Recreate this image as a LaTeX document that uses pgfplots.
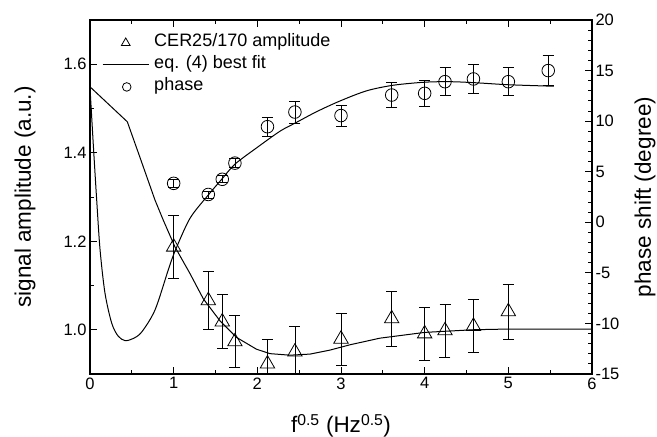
\documentclass[border=0pt]{standalone}
\usepackage{fontspec}
\setmainfont{Liberation Sans}
\usepackage{pgfplots}
\pgfplotsset{compat=1.18}
\usepackage{pgfplotstable}

\pgfplotstableread{
x y e
1.000 1.187 0.072
1.414 1.066 0.065
1.581 1.018 0.061
1.732 0.973 0.059
2.121 0.923 0.056
2.449 0.950 0.057
3.000 0.979 0.059
3.606 1.025 0.062
4.000 0.991 0.060
4.243 0.998 0.060
4.583 1.008 0.060
5.000 1.041 0.062
}\ampdata

\pgfplotstableread{
x y
0     1.549
0.446 1.470
0.600 1.388
0.777 1.293
0.875 1.248
1.016 1.187
1.195 1.127
1.354 1.070
1.554 1.020
1.753 0.9825
1.990 0.956
2.151 0.946
2.390 0.9425
2.630 0.945
2.868 0.954
3.107 0.966
3.466 0.981
4.000 0.994
4.580 1.000
5.000 1.0016
6.000 1.0016
}\ampfit

\pgfplotstableread{
x y e
1.000 3.85 0.40
1.414 2.75 0.35
1.581 4.25 0.35
1.732 5.85 0.45
2.121 9.45 0.93
2.449 10.90 1.10
3.000 10.55 1.04
3.606 12.58 1.24
4.000 12.75 1.27
4.243 13.90 1.37
4.583 14.17 1.40
5.000 13.90 1.37
5.477 15.00 1.45
}\phasedata

\pgfplotstableread{
x y
0     13.30
0.040 7.60
0.080 2.20
0.120 -2.70
0.179 -7.00
0.259 -9.96
0.335 -11.24
0.418 -11.70
0.514 -11.50
0.618 -10.85
0.777 -8.67
0.932 -4.80
1.016 -2.85
1.195 0.39
1.414 2.70
1.574 4.25
1.733 5.75
1.990 7.35
2.270 9.00
2.450 9.80
2.710 10.94
2.990 12.00
3.307 13.00
3.625 13.55
4.000 13.85
4.300 13.90
4.600 13.80
5.000 13.60
5.545 13.45
}\phasefit

\begin{document}
\begin{tikzpicture}
\pgfplotsset{
  common/.style={
    scale only axis, width=502pt, height=354pt,
    xmin=0, xmax=6,
    /pgf/number format/assume math mode=true,
    tick label style={font=\fontsize{16.5}{18}\selectfont},
    tick align=inside,
    major tick length=7pt, minor tick length=4pt,
    every tick/.style={black, line width=0.9pt},
    axis line style={line width=1.1pt},
  },
}
\begin{axis}[common, name=ax,
  ymin=0.9, ymax=1.7,
  ytick={1.0,1.2,1.4,1.6}, yticklabels={1.0,1.2,1.4,1.6},
  minor ytick={0.9,1.1,1.3,1.5,1.7},
  ytick pos=left,
  xtick={0,1,2,3,4,5,6}, minor xtick={0.5,1.5,2.5,3.5,4.5,5.5},
  xtick pos=both,
  xlabel={f\textsuperscript{0.5} (Hz\textsuperscript{0.5})},
  ylabel={signal amplitude (a.u.)},
  every axis x label/.style={at={(rel axis cs:0.5,0)}, yshift=-52pt, anchor=center, font=\fontsize{22.5}{26}\selectfont},
  every axis y label/.style={at={(rel axis cs:0,0.5)}, xshift=-65pt, rotate=90, anchor=center, font=\fontsize{22.5}{26}\selectfont},
  legend style={draw=none, fill=none, inner sep=0pt,
    at={(rel axis cs:0.024,0.964)}, anchor=north west,
    font=\fontsize{18}{20}\selectfont, cells={anchor=west},
    nodes={inner sep=2pt, text height=12pt, text depth=4pt}, row sep=2pt, column sep=3pt},
]
\addlegendimage{legend image code/.code={\path (0pt,0pt) (46pt,0pt); \draw[black, line width=0.8pt] plot[only marks, mark=triangle, mark size=5pt] coordinates {(23pt,0pt)};}}
\addlegendentry{CER25/170 amplitude}
\addlegendimage{legend image code/.code={\draw[black, line width=1pt] (0pt,0pt) -- (46pt,0pt);}}
\addlegendentry{eq. (4) best fit}
\addlegendimage{legend image code/.code={\path (0pt,0pt) (46pt,0pt); \draw[black, line width=0.8pt] plot[only marks, mark=o, mark size=4.3pt] coordinates {(24pt,0pt)};}}
\addlegendentry{phase}

\addplot[black, line width=1pt, forget plot] table[x=x, y=y] {\ampfit};
\addplot[black, only marks, forget plot, mark=triangle, mark size=8.3pt,
  mark options={line width=0.8pt, fill=none},
  error bars/.cd, y dir=both, y explicit,
  error bar style={line width=0.8pt, black},
  error mark options={rotate=90, mark size=5.5pt, line width=0.8pt, black}
  ] table[x=x, y=y, y error=e] {\ampdata};
\end{axis}

\begin{axis}[common,
  ymin=-15, ymax=20,
  axis x line=none, axis y line*=right,
  axis line style={-},
  ytick={-15,-10,-5,0,5,10,15,20},
  yticklabels={-15,-10,-5,0,5,10,15,20},
  minor y tick num=4,
  ylabel={phase shift (degree)},
  every axis y label/.style={at={(rel axis cs:1,0.5)}, xshift=53pt, rotate=90, anchor=center, font=\fontsize{22.5}{26}\selectfont},
]
\addplot[black, line width=1pt, smooth, tension=0.5] table[x=x, y=y] {\phasefit};
\addplot[black, only marks, mark=o, mark size=6.3pt,
  mark options={line width=0.8pt, fill=none},
  error bars/.cd, y dir=both, y explicit,
  error bar style={line width=0.8pt, black},
  error mark options={rotate=90, mark size=5.5pt, line width=0.8pt, black}
  ] table[x=x, y=y, y error=e] {\phasedata};
\end{axis}

\pgfresetboundingbox
\path ([shift={(-90pt,-63pt)}]ax.south west) rectangle ([shift={(65pt,20pt)}]ax.north east);
\end{tikzpicture}
\end{document}
